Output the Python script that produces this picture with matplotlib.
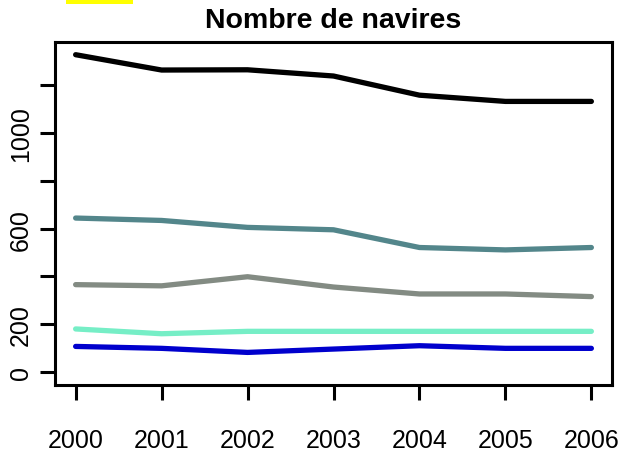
import matplotlib
matplotlib.use('Agg') #no display
import matplotlib.pyplot as plt #plotting functions
from matplotlib.patches import Rectangle

plt.rcParams['font.family'] = ['Liberation Sans', 'DejaVu Sans']

years = [2000, 2001, 2002, 2003, 2004, 2005, 2006]
serie_noir = [1326, 1262, 1263, 1237, 1157, 1131, 1131]
serie_bleu_gris = [644, 634, 605, 595, 521, 511, 521]
serie_gris = [366, 361, 399, 356, 327, 327, 316]
serie_aquamarine = [181, 161, 171, 171, 171, 171, 171]
serie_bleu = [108, 100, 83, 97, 111, 100, 100]

series = [serie_noir, serie_bleu_gris, serie_gris, serie_aquamarine, serie_bleu]
colours = ['#000000', '#53868B', '#838B83', '#76EEC6', '#0000CD']

yticks = [0, 200, 400, 600, 800, 1000, 1200]
ylabels = ['0', '200', '', '600', '', '1000', '']

fig = plt.figure(figsize=(6.19, 4.52), dpi=100)
ax = fig.add_axes([55/619, (452-386)/452, (612-55)/619, (386-43)/452])

for vals, col in zip(series, colours): #one line per series
    ax.plot(years, vals, color=col, lw=3.8, solid_capstyle='round', solid_joinstyle='round')

ax.set_xlim(2000 - 0.24, 2006 + 0.24)
ymax = max(serie_noir)
ax.set_ylim(-0.04*ymax, 1.04*ymax)

ax.set_xticks(years)
ax.set_xticklabels([str(y) for y in years], fontsize=18)
ax.set_yticks(yticks)
ax.set_yticklabels(ylabels, fontsize=18, rotation=90, va='center')
ax.tick_params(axis='x', length=11, width=2.2, pad=20)
ax.tick_params(axis='y', length=11, width=2.2, pad=5)
for s in ax.spines.values():
    s.set_linewidth(2.2)

fig.text(333/619, 1 - 21/452, 'Nombre de navires', ha='center', va='center',
         fontsize=20.5, fontweight='bold')

fig.patches.append(Rectangle((66/619, 1 - 5/452), 67/619, 5/452, transform=fig.transFigure,
                             facecolor='#FFFF00', edgecolor='none'))

plt.savefig('out.png', dpi=100) #save figure
